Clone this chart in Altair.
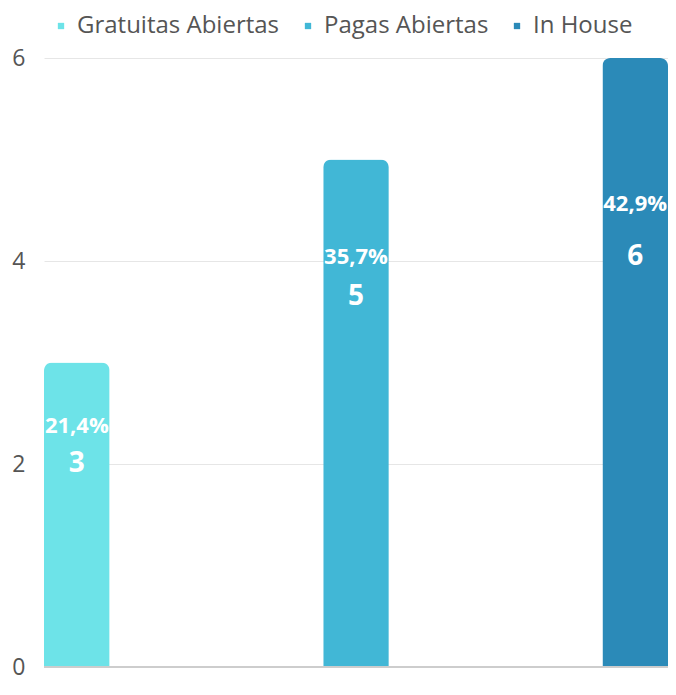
import altair as alt
import pandas as pd

categories = ["Gratuitas Abiertas", "Pagas Abiertas", "In House"]
values = [3, 5, 6]
pct_labels = ["21,4%", "35,7%", "42,9%"]
# label anchor heights (data units)
pct_pos = [2.37, 4.04, 4.56]
val_pos = [2.00, 3.65, 4.04]
colors = ["#6DE3E8", "#41B7D6", "#2B8AB8"]
y_ticks = [0, 2, 4, 6]

df = pd.DataFrame({
    "cat": categories,
    "value": values,
    "pct": pct_labels,
    "pct_pos": pct_pos,
    "val_pos": val_pos,
    "val_txt": [str(v) for v in values],
})

FONT = "Open Sans"

x = alt.X("cat:N", sort=categories,
          scale=alt.Scale(paddingInner=0.765, paddingOuter=0),
          axis=None)

bars = alt.Chart(df).mark_bar(cornerRadiusTopLeft=8, cornerRadiusTopRight=8).encode(
    x=x,
    y=alt.Y("value:Q", scale=alt.Scale(domain=[0, 6], nice=False),
            axis=alt.Axis(values=y_ticks, format="d", title=None, domain=False, ticks=False,
                          labelFont=FONT, labelFontSize=23, labelColor="#555555",
                          labelPadding=19, gridColor="#e6e6e6", gridWidth=1)),
    color=alt.Color("cat:N", sort=categories,
                    scale=alt.Scale(domain=categories, range=colors),
                    legend=alt.Legend(title=None, orient="none", direction="horizontal",
                                      legendX=5, legendY=-44,
                                      symbolType="square", symbolSize=40,
                                      symbolStrokeWidth=0, labelLimit=0,
                                      labelFont=FONT, labelFontSize=24,
                                      labelColor="#555555", labelOffset=4,
                                      columnPadding=16)),
)

baseline = alt.Chart(df).mark_rule(color="#cccccc", strokeWidth=1.5).encode(
    y=alt.datum(0)
)

pct_text = alt.Chart(df).mark_text(font=FONT, fontSize=22, fontWeight="bold",
                                    color="white", baseline="middle").encode(
    x=x, y=alt.Y("pct_pos:Q"), text="pct:N")

val_text = alt.Chart(df).mark_text(font=FONT, fontSize=28, fontWeight="bold",
                                    color="white", baseline="middle").encode(
    x=x, y=alt.Y("val_pos:Q"), text="val_txt:N")

chart = alt.layer(bars, baseline, pct_text, val_text).properties(
    width=624, height=609,
    autosize=alt.AutoSizeParams(type="none"),
    padding={"left": 36, "top": 50, "right": 0, "bottom": 16},
).configure_view(stroke=None)

chart.save("out.html", embed_options={"renderer": "svg", "actions": False})
